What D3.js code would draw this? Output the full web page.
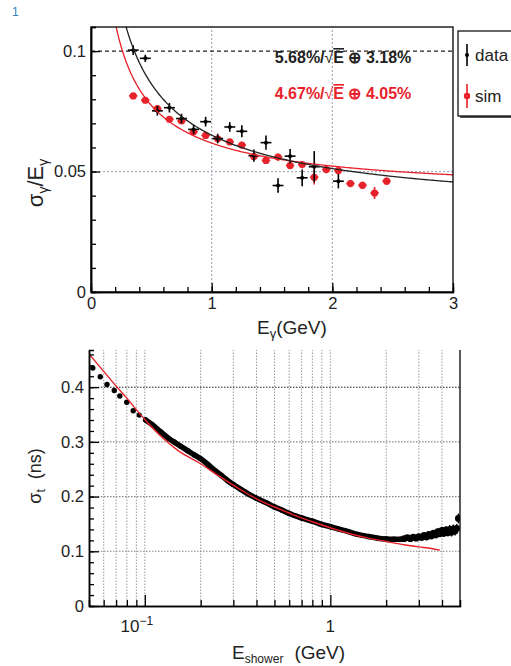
<!DOCTYPE html>
<html><head><meta charset="utf-8">
<script src="https://cdn.jsdelivr.net/npm/d3@7"></script>
<style>
body{margin:0;background:#fff}
svg{display:block}
text{font-family:"Liberation Sans",Arial,Helvetica,sans-serif}
</style>
</head><body>
<svg id="c" width="511" height="666"></svg>
<script>
// ---------- Top panel: energy resolution ----------
const dataE   = [0.35,0.45,0.55,0.65,0.75,0.85,0.95,1.05,1.15,1.25,1.35,1.45,1.55,1.65,1.75,1.85,2.05];
const dataRes = [0.1004,0.097,0.0752,0.0765,0.072,0.0675,0.0707,0.0637,0.0685,0.0667,0.0566,0.062,0.0442,0.0564,0.0474,0.052,0.046];
const dataErr = [0.002,0.0015,0.002,0.002,0.002,0.002,0.002,0.002,0.002,0.0025,0.0025,0.003,0.003,0.003,0.0035,0.0065,0.003];
const simE    = [0.35,0.45,0.55,0.65,0.75,0.85,0.95,1.05,1.15,1.25,1.35,1.45,1.55,1.65,1.75,1.85,1.95,2.05,2.15,2.25,2.35,2.45];
const simRes  = [0.0814,0.0796,0.0761,0.0717,0.071,0.0665,0.065,0.0636,0.0623,0.061,0.0562,0.0546,0.056,0.0525,0.0529,0.0476,0.0508,0.0504,0.045,0.0443,0.0411,0.046];
const simErr  = [0.0012,0.0012,0.0012,0.0012,0.0012,0.0012,0.0012,0.0012,0.0012,0.0012,0.0015,0.0015,0.0015,0.0015,0.0015,0.003,0.0015,0.0015,0.0015,0.0015,0.0025,0.0015];
const dataFit = [0.0568, 0.0318];   // stochastic, constant
const simFit  = [0.0467, 0.0405];
const topXTicks = [0,1,2,3];
const topYTicks = [0,0.05,0.1];
const topLabels = ["5.68%/", "E", " \u2295 3.18%", "4.67%/", "E", " \u2295 4.05%"];
const legendLabels = ["data","sim"];

// ---------- Bottom panel: time resolution ----------
const showerE = [0.0524,0.0575,0.0625,0.0684,0.0733,0.0799,0.0866,0.0933,0.101,
  0.11,0.122,0.135,0.145,0.156,0.17,0.185,0.2,0.22,0.24,0.26,0.28,0.3,0.33,0.36,0.4,0.45,0.5,0.55,0.6,0.7,0.8,0.9,1.0,1.1,1.25,1.4,1.6,1.8,2.0,2.2,2.4,
  2.5,2.6,2.7,2.8,2.9,3.0,3.1,3.2,3.3,3.4,3.5,3.6,3.7,3.8,3.9,4.0,4.1,4.2,4.3,4.4,4.5,4.6,4.7,4.8,4.9];
const showerSigma = [0.435,0.419,0.405,0.394,0.384,0.3725,0.357,0.349,0.340,
  0.331,0.318,0.306,0.299,0.292,0.284,0.276,0.269,0.258,0.247,0.238,0.229,0.222,0.213,0.205,0.197,0.189,0.181,0.175,0.169,0.161,0.155,0.149,0.145,0.141,0.136,0.131,0.127,0.124,0.1225,0.122,0.122,
  0.123,0.125,0.123,0.126,0.124,0.127,0.125,0.129,0.126,0.131,0.128,0.133,0.130,0.136,0.132,0.138,0.133,0.139,0.134,0.140,0.135,0.141,0.137,0.142,0.160];
const showerErr = [0,0,0,0,0,0,0,0,0,
  0,0,0,0,0,0,0,0,0,0,0,0,0,0,0,0,0,0,0,0,0,0,0,0,0,0,0,0,0,0,0,0,
  0.003,0.003,0.003,0.004,0.004,0.004,0.004,0.005,0.005,0.005,0.005,0.006,0.006,0.006,0.006,0.007,0.007,0.007,0.007,0.008,0.008,0.008,0.008,0.008,0.009];
const fitE     = [0.05,0.06,0.07,0.08,0.09,0.1,0.125,0.15,0.2,0.25,0.3,0.35,0.4,0.5,0.6,0.7,0.8,1.0,1.25,1.6,2.0,2.5,3.0,3.5,3.9];
const fitSigma = [0.461,0.429,0.402,0.380,0.359,0.341,0.307,0.285,0.260,0.238,0.221,0.207,0.196,0.181,0.170,0.161,0.154,0.143,0.133,0.124,0.118,0.112,0.108,0.105,0.102];
const botYTicks = [0,0.1,0.2,0.3,0.4];
const botXMajor = [0.1,1];
const botXMinor = [0.06,0.07,0.08,0.09,0.2,0.3,0.4,0.5,0.6,0.7,0.8,0.9,2,3,4];

const RED = "#e8222a";
const svg = d3.select("#c");

// panel marker
svg.append("text").attr("x",12).attr("y",16).attr("font-size",12).attr("fill","#2e86b8").text("1");

// ================= TOP =================
const xT = d3.scaleLinear().domain([0,3]).range([91,453]);
const yT = d3.scaleLinear().domain([0,0.11]).range([292,27]);
const topG = svg.append("g");
topG.append("clipPath").attr("id","clipT").append("rect")
  .attr("x",xT(0)).attr("y",yT(0.11)).attr("width",xT(3)-xT(0)).attr("height",yT(0)-yT(0.11));

// grid
[1,2].forEach(v=>topG.append("line").attr("x1",xT(v)).attr("x2",xT(v)).attr("y1",yT(0)).attr("y2",yT(0.11))
  .attr("stroke","#aab").attr("stroke-width",1.2).attr("stroke-dasharray","2,2"));
topG.append("line").attr("x1",xT(0)).attr("x2",xT(3)).attr("y1",yT(0.05)).attr("y2",yT(0.05))
  .attr("stroke","#aab").attr("stroke-width",1.2).attr("stroke-dasharray","2,2");
topG.append("line").attr("x1",xT(0)).attr("x2",xT(3)).attr("y1",yT(0.1)).attr("y2",yT(0.1))
  .attr("stroke","#222").attr("stroke-width",1.3).attr("stroke-dasharray","4,3");

// points with error bars
function errPts(g, E, V, Er, xe, color, r){
  E.forEach((e,i)=>{
    g.append("line").attr("x1",xT(e)).attr("x2",xT(e)).attr("y1",yT(V[i]-Er[i])).attr("y2",yT(V[i]+Er[i]))
      .attr("stroke",color).attr("stroke-width",1.6);
    g.append("line").attr("x1",xT(e-xe)).attr("x2",xT(e+xe)).attr("y1",yT(V[i])).attr("y2",yT(V[i]))
      .attr("stroke",color).attr("stroke-width",1.6);
    g.append("circle").attr("cx",xT(e)).attr("cy",yT(V[i])).attr("r",r).attr("fill",color);
  });
}
const ptsT = topG.append("g").attr("clip-path","url(#clipT)");
errPts(ptsT, simE, simRes, simErr, 0.035, RED, 3.6);
errPts(ptsT, dataE, dataRes, dataErr, 0.045, "#000", 2);

// fit curves
const fitLine = p => d3.line().x(e=>xT(e)).y(e=>yT(Math.sqrt(p[0]*p[0]/e + p[1]*p[1])));
const eSamples = d3.range(0.15,3.0001,0.01);
const curves = topG.append("g").attr("clip-path","url(#clipT)");
curves.append("path").attr("d",fitLine(simFit)(eSamples)).attr("fill","none").attr("stroke",RED).attr("stroke-width",1.3);
curves.append("path").attr("d",fitLine(dataFit)(eSamples)).attr("fill","none").attr("stroke","#222").attr("stroke-width",1.3);

// frame
topG.append("rect").attr("x",xT(0)).attr("y",yT(0.11)).attr("width",xT(3)-xT(0)).attr("height",yT(0)-yT(0.11))
  .attr("fill","none").attr("stroke","#000").attr("stroke-width",1.3);

// axes
const axYTmin = d3.axisLeft(yT).tickValues(d3.range(0.01,0.1101,0.01)).tickSize(-5).tickFormat("");
const axYT = d3.axisLeft(yT).tickValues(topYTicks).tickSizeInner(-9).tickSizeOuter(0).tickPadding(5)
  .tickFormat(d=>d===0?"0":String(+d.toFixed(2)));
const axXTmin = d3.axisBottom(xT).tickValues(d3.range(0.2,3,0.2)).tickSize(-5).tickFormat("");
const axXT = d3.axisBottom(xT).tickValues(topXTicks).tickSizeInner(-9).tickSizeOuter(0).tickPadding(5).tickFormat(d3.format("d"));
[[axYTmin,"l"],[axYT,"l"],[axXTmin,"b"],[axXT,"b"]].forEach(([a,s])=>{
  const g = topG.append("g").attr("transform", s==="l" ? `translate(${xT(0)},0)` : `translate(0,${yT(0)})`).call(a);
  g.select(".domain").attr("stroke","#000").attr("stroke-width",1.5);
  g.selectAll(".tick line").attr("stroke","#000").attr("stroke-width",1.3);
  g.selectAll("text").attr("font-size",16.5).attr("fill","#222").attr("font-family","Liberation Sans, Arial, sans-serif");
});

// axis titles
const tx = topG.append("text").attr("x",257).attr("y",334).attr("font-size",19).attr("fill","#222");
tx.append("tspan").text("E");
tx.append("tspan").attr("font-size",13).attr("dy",4).text("\u03b3");
tx.append("tspan").attr("dy",-4).text("(GeV)");
const ty = topG.append("text").attr("transform","translate(43,183) rotate(-90)").attr("text-anchor","middle").attr("font-size",22).attr("fill","#222");
ty.append("tspan").text("\u03c3");
ty.append("tspan").attr("font-size",14).attr("dy",5).text("\u03b3");
ty.append("tspan").attr("dy",-5).text("/E");
ty.append("tspan").attr("font-size",14).attr("dy",5).text("\u03b3");

// fit labels
function fitLabel(y, color, parts){
  const t = topG.append("text").attr("x",343).attr("y",y).attr("text-anchor","middle").attr("font-size",16)
    .attr("font-weight","bold").attr("fill",color);
  t.append("tspan").text(parts[0]);
  t.append("tspan").attr("font-weight","normal").text("\u221a");
  t.append("tspan").attr("style","text-decoration:overline").text(parts[1]);
  t.append("tspan").text(parts[2]);
}
fitLabel(63, "#222", topLabels.slice(0,3));
fitLabel(99, RED, topLabels.slice(3,6));

// legend
const lg = svg.append("g");
lg.append("rect").attr("x",460).attr("y",33).attr("width",60).attr("height",85).attr("fill","#555");
lg.append("rect").attr("x",458).attr("y",31).attr("width",60).attr("height",85).attr("fill","#fff").attr("stroke","#000").attr("stroke-width",1.2);
lg.append("line").attr("x1",467).attr("x2",467).attr("y1",44).attr("y2",66).attr("stroke","#000").attr("stroke-width",1.6);
lg.append("circle").attr("cx",467).attr("cy",55).attr("r",2).attr("fill","#000");
lg.append("line").attr("x1",467).attr("x2",467).attr("y1",84).attr("y2",108).attr("stroke",RED).attr("stroke-width",1.6);
lg.append("circle").attr("cx",467).attr("cy",96).attr("r",3.2).attr("fill",RED);
lg.append("text").attr("x",475).attr("y",61).attr("font-size",17).attr("fill","#222").text(legendLabels[0]);
lg.append("text").attr("x",475).attr("y",102).attr("font-size",17).attr("fill","#222").text(legendLabels[1]);

// ================= BOTTOM =================
const xB = d3.scaleLog().domain([0.05,5]).range([89,460]);
const yB = d3.scaleLinear().domain([0,0.468]).range([606,350]);
const botG = svg.append("g");
botG.append("clipPath").attr("id","clipB").append("rect")
  .attr("x",xB(0.05)).attr("y",yB(0.468)).attr("width",xB(5)-xB(0.05)).attr("height",yB(0)-yB(0.468));

// grid
botXMinor.concat(botXMajor).forEach(v=>botG.append("line").attr("x1",xB(v)).attr("x2",xB(v)).attr("y1",yB(0)).attr("y2",yB(0.468))
  .attr("stroke","#999").attr("stroke-width",1).attr("stroke-dasharray","1.5,1.5"));
botYTicks.slice(1).forEach(v=>botG.append("line").attr("x1",xB(0.05)).attr("x2",xB(5)).attr("y1",yB(v)).attr("y2",yB(v))
  .attr("stroke", v===0.4 ? "#222" : "#888").attr("stroke-width",1.1).attr("stroke-dasharray","1.5,1.5"));

const pb = botG.append("g").attr("clip-path","url(#clipB)");
// dense band for the continuous part of the data
const dense = showerE.map((e,i)=>[e,showerSigma[i]]).filter(d=>d[0]>=0.1 && d[0]<=2.45);
pb.append("path").attr("d", d3.line().x(d=>xB(d[0])).y(d=>yB(d[1])).curve(d3.curveMonotoneX)(dense))
  .attr("fill","none").attr("stroke","#000").attr("stroke-width",5.5).attr("stroke-linejoin","round").attr("stroke-linecap","round");
showerE.forEach((e,i)=>{
  if(showerErr[i]>0){
    pb.append("line").attr("x1",xB(e)).attr("x2",xB(e)).attr("y1",yB(showerSigma[i]-showerErr[i])).attr("y2",yB(showerSigma[i]+showerErr[i]))
      .attr("stroke","#000").attr("stroke-width",1.4);
  }
  pb.append("circle").attr("cx",xB(e)).attr("cy",yB(showerSigma[i])).attr("r", e>2.45?3.4:2.7).attr("fill","#000");
});
pb.append("path").attr("d", d3.line().x((e)=>xB(e)).y((e,i)=>yB(fitSigma[i])).curve(d3.curveMonotoneX)(fitE))
  .attr("fill","none").attr("stroke",RED).attr("stroke-width",1.4);

// right frame line
botG.append("line").attr("x1",xB(5)).attr("x2",xB(5)).attr("y1",yB(0)).attr("y2",yB(0.468)).attr("stroke","#000").attr("stroke-width",1.3);

const axYBmin = d3.axisLeft(yB).tickValues(d3.range(0.02,0.461,0.02)).tickSize(-5).tickFormat("");
const axYB = d3.axisLeft(yB).tickValues(botYTicks).tickSizeInner(-10).tickSizeOuter(0).tickPadding(5)
  .tickFormat(d=>d===0?"0":String(+d.toFixed(1)));
const axXBmin = d3.axisBottom(xB).tickValues(botXMinor).tickSize(-6).tickFormat("");
const axXB = d3.axisBottom(xB).tickValues(botXMajor).tickSizeInner(-11).tickSizeOuter(0).tickFormat("");
[[axYBmin,"l"],[axYB,"l"],[axXBmin,"b"],[axXB,"b"]].forEach(([a,s])=>{
  const g = botG.append("g").attr("transform", s==="l" ? `translate(${xB(0.05)},0)` : `translate(0,${yB(0)})`).call(a);
  g.select(".domain").attr("stroke","#000").attr("stroke-width",1.5);
  g.selectAll(".tick line").attr("stroke","#000").attr("stroke-width",1.3);
  g.selectAll("text").attr("font-size",16.5).attr("fill","#222").attr("font-family","Liberation Sans, Arial, sans-serif");
});
// log x labels
const l1 = botG.append("text").attr("x",xB(0.1)-8).attr("y",632).attr("text-anchor","middle").attr("font-size",17).attr("fill","#222");
l1.append("tspan").text("10");
l1.append("tspan").attr("font-size",12).attr("dy",-7).text("\u22121");
botG.append("text").attr("x",xB(1)).attr("y",632).attr("text-anchor","middle").attr("font-size",17).attr("fill","#222").text("1");

// titles
const bx = botG.append("text").attr("x",232).attr("y",659).attr("font-size",19).attr("fill","#222");
bx.append("tspan").text("E");
bx.append("tspan").attr("font-size",12).attr("dy",4).text("shower");
bx.append("tspan").attr("dy",-4).attr("dx",11).text("(GeV)");
const by = botG.append("text").attr("transform","translate(41,476) rotate(-90)").attr("text-anchor","middle").attr("font-size",18).attr("fill","#222");
by.append("tspan").text("\u03c3");
by.append("tspan").attr("font-size",12).attr("dy",4).text("t");
by.append("tspan").attr("dy",-4).attr("dx",10).text("(ns)");
</script>
</body></html>
